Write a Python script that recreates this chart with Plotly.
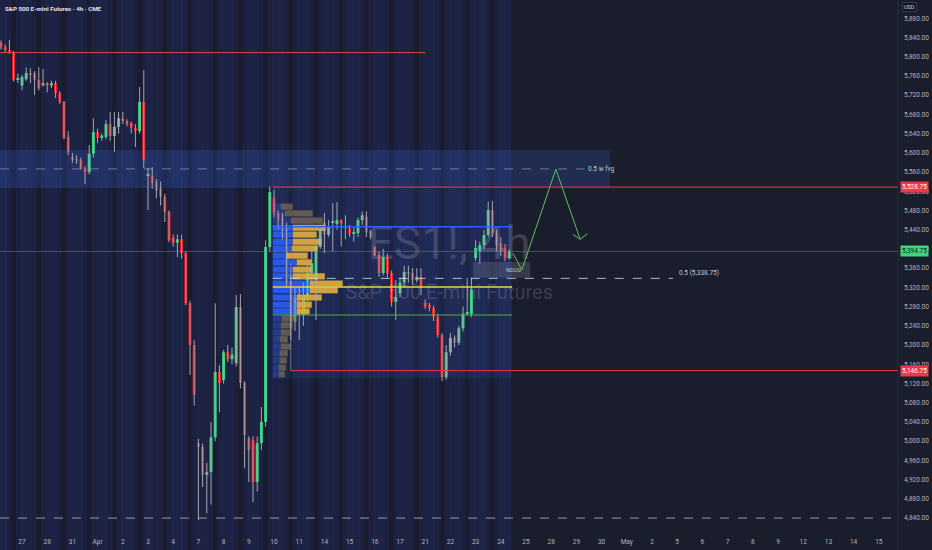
import plotly.graph_objects as go

# ---------------- data ----------------
first_bar = -5  # bar index of first visible 4h candle (index 0 = first bar of Mar 27)
opens = [5829, 5820, 5814, 5808, 5752, 5740, 5753, 5766, 5766, 5752, 5740, 5745, 5740, 5745, 5724,
         5706, 5633, 5591, 5585, 5585, 5568, 5560, 5598, 5643, 5631, 5633, 5660, 5635, 5654, 5672,
         5666, 5662, 5652, 5645, 5706, 5552, 5552, 5539, 5526, 5508, 5477, 5423, 5413, 5420, 5391,
         5287, 5200, 4996, 4988, 4930, 4936, 5008, 5144, 5127, 5185, 5171, 5162, 5279, 5121, 5006,
         5002, 4915, 4996, 5040, 5404, 5506, 5475, 5470, 5450, 5330, 5260, 5300, 5265, 5300, 5350,
         5335, 5404, 5455, 5430, 5455, 5452, 5460, 5445, 5443, 5432, 5433, 5460, 5467, 5437, 5404,
         5387, 5350, 5383, 5350, 5290, 5308, 5330, 5350, 5350, 5335, 5342, 5288, 5283, 5277, 5258,
         5221, 5133, 5185, 5215, 5205, 5235, 5265, 5264, 5381, 5395, 5408, 5429, 5481, 5433, 5412,
         5402, 5381]
highs = [5834, 5826, 5835, 5812, 5765, 5762, 5778, 5776, 5770, 5778, 5774, 5747, 5750, 5750, 5728,
         5708, 5645, 5600, 5595, 5590, 5572, 5616, 5672, 5650, 5640, 5668, 5685, 5685, 5685, 5685,
         5670, 5665, 5660, 5737, 5772, 5568, 5570, 5545, 5540, 5515, 5480, 5430, 5430, 5430, 5395,
         5292, 5210, 5005, 4995, 4955, 5040, 5287, 5158, 5190, 5200, 5195, 5304, 5306, 5125, 5010,
         5010, 5010, 5071, 5418, 5530, 5523, 5480, 5475, 5455, 5345, 5320, 5320, 5330, 5370, 5400,
         5420, 5450, 5475, 5460, 5495, 5497, 5462, 5470, 5450, 5445, 5465, 5478, 5478, 5440, 5405,
         5395, 5400, 5390, 5355, 5335, 5340, 5365, 5365, 5360, 5360, 5360, 5295, 5288, 5282, 5265,
         5225, 5200, 5225, 5220, 5240, 5280, 5340, 5340, 5418, 5415, 5440, 5498, 5500, 5440, 5425,
         5410, 5400]
lows = [5815, 5808, 5806, 5748, 5745, 5730, 5750, 5745, 5720, 5730, 5738, 5726, 5735, 5714, 5702,
        5628, 5595, 5579, 5577, 5565, 5535, 5555, 5590, 5620, 5625, 5628, 5625, 5602, 5640, 5660,
        5655, 5640, 5612, 5640, 5568, 5481, 5525, 5505, 5490, 5456, 5414, 5405, 5383, 5380, 5283,
        5138, 5074, 4836, 4905, 4850, 4868, 5000, 5060, 5120, 5165, 5160, 5155, 5110, 4944, 4915,
        4873, 4895, 4982, 5030, 5395, 5465, 5440, 5420, 5320, 5210, 5230, 5210, 5240, 5290, 5320,
        5252, 5400, 5391, 5425, 5395, 5440, 5405, 5420, 5425, 5415, 5425, 5450, 5425, 5420, 5385,
        5342, 5345, 5340, 5280, 5252, 5300, 5320, 5330, 5325, 5330, 5304, 5275, 5270, 5250, 5215,
        5125, 5128, 5178, 5195, 5200, 5228, 5262, 5258, 5375, 5370, 5400, 5425, 5425, 5395, 5385,
        5375, 5378]
closes = [5820, 5814, 5808, 5752, 5755, 5758, 5766, 5764, 5752, 5734, 5745, 5740, 5745, 5724, 5706,
          5631, 5602, 5585, 5584, 5568, 5560, 5598, 5643, 5631, 5636, 5660, 5635, 5654, 5672, 5666,
          5662, 5652, 5645, 5706, 5585, 5556, 5537, 5522, 5508, 5477, 5418, 5413, 5420, 5391, 5287,
          5200, 5096, 4988, 4930, 4936, 5008, 5144, 5121, 5185, 5171, 5180, 5279, 5121, 5013, 4982,
          4915, 4996, 5040, 5404, 5518, 5475, 5460, 5450, 5330, 5260, 5300, 5265, 5300, 5350, 5370,
          5404, 5440, 5430, 5446, 5458, 5460, 5453, 5444, 5432, 5433, 5460, 5470, 5435, 5425, 5387,
          5350, 5383, 5350, 5290, 5300, 5330, 5352, 5348, 5335, 5342, 5320, 5280, 5277, 5258, 5221,
          5133, 5185, 5215, 5205, 5235, 5265, 5268, 5315, 5402, 5408, 5429, 5481, 5433, 5408, 5394,
          5381, 5394.75]

day_labels = ["27", "28", "31", "Apr", "2", "3", "4", "7", "8", "9", "10", "11", "14", "15", "16",
              "17", "21", "22", "23", "24", "25", "28", "29", "30", "May", "2", "5", "6", "7", "8",
              "9", "12", "13", "14", "15"]
bars_per_day = 6

# horizontal levels
level_high = 5528.75
level_low = 5146.75
level_top_old = 5808.5
level_bottom = 4840.0
last_price = 5394.75
fvg_top, fvg_bottom = 5606, 5527
vah, poc, val = 5446, 5321, 5262.5
fib_half = 5338.75
ndog_top, ndog_bottom = 5373, 5340

# volume profile rows (price centres, top -> bottom) and volumes (up/down parts)
profile_prices = [5488, 5474, 5459, 5444, 5430, 5415, 5401, 5386, 5372, 5357, 5343, 5328, 5314,
                  5299, 5284, 5270, 5255, 5241, 5226, 5212, 5197, 5183, 5168, 5153, 5139]
profile_up = [8, 12, 18, 20, 20, 20, 19, 14, 24, 20, 20, 37, 37, 24, 24, 24, 9, 8, 8, 7, 8, 7, 7, 6, 6]
profile_down = [12, 28, 32, 33, 24, 29, 26, 21, 15, 19, 32, 33, 28, 25, 15, 13, 15, 12, 10, 8, 10, 8, 7, 7, 6]

# projected path (bar index, price)
path_x = [116.9, 119.0, 127.1, 132.9]
path_y = [5391, 5356, 5566, 5420]

# ---------------- figure ----------------
W, H = 932, 550
ml, mr, mt, mb = 0, 34, 0, 18
bar_px = 25.2 / bars_per_day
x0_px = 22.0
x_range = [(0 - x0_px) / bar_px, (W - mr - x0_px) / bar_px]
y_range = [4811, 5918]

n = len(opens)
idx = [first_bar + k for k in range(n)]
GREEN = "#35d07f"
RED = "#f0141e"
WICK = "#a3a7b1"

fig = go.Figure()

# background session stripes
for i in range(first_bar - 1, idx[-1] + 1):
    k = i % bars_per_day
    if k == 4:
        col = "#191c2f"
    elif k in (3, 5):
        col = "#1c2140"
    else:
        col = "#1e2446"
    fig.add_shape(type="rect", xref="x", yref="paper", x0=i - 0.5, x1=i + 0.5, y0=-0.04, y1=1,
                  fillcolor=col, line_width=0, layer="below")

# FVG box
fig.add_shape(type="rect", xref="x", yref="y", x0=x_range[0], x1=140, y0=fvg_bottom, y1=fvg_top,
              fillcolor="rgba(60,100,220,0.22)", line_width=0, layer="below")
# profile box
fig.add_shape(type="rect", xref="x", yref="y", x0=59.7, x1=116.7, y0=5131, y1=level_high,
              fillcolor="rgba(60,100,220,0.12)", line_width=0, layer="below")
# NDOG box
fig.add_shape(type="rect", xref="x", yref="y", x0=107.4, x1=121, y0=ndog_bottom, y1=ndog_top,
              fillcolor="rgba(140,143,154,0.25)", line_width=0, layer="below")

# watermark
fig.add_trace(go.Scatter(x=[101.7], y=[5404], mode="text", text=["ES1!, 4h"],
                         textfont=dict(size=46, color="rgba(150,155,170,0.28)", family="Roboto"),
                         hoverinfo="skip", showlegend=False))
fig.add_trace(go.Scatter(x=[101.7], y=[5306], mode="text", text=["S&P 500 E-mini Futures"],
                         textfont=dict(size=20, color="rgba(150,155,170,0.28)", family="Roboto"),
                         hoverinfo="skip", showlegend=False))

# wicks
wx, wy = [], []
for i, h, l in zip(idx, highs, lows):
    wx += [i, i, None]
    wy += [l, h, None]
fig.add_trace(go.Scatter(x=wx, y=wy, mode="lines", line=dict(color=WICK, width=1),
                         hoverinfo="skip", showlegend=False))
# bodies
bases = [min(o, c) for o, c in zip(opens, closes)]
heights = [max(abs(c - o), 2.0) for o, c in zip(opens, closes)]
colors = [GREEN if c >= o else RED for o, c in zip(opens, closes)]
fig.add_trace(go.Bar(x=idx, y=heights, base=bases, width=0.72, marker=dict(color=colors, line_width=0),
                     hoverinfo="skip", showlegend=False))

# volume profile
px_per_unit = 1.0 / bar_px
prof_start = 59.7
row_h = 14.56
in_va = [val <= p <= vah + 8 for p in profile_prices]
up_col = ["rgba(41,98,255,0.85)" if v else "rgba(41,98,255,0.30)" for v in in_va]
dn_col = ["rgba(240,185,60,0.85)" if v else "rgba(170,140,80,0.50)" for v in in_va]
fig.add_trace(go.Bar(orientation="h", y=profile_prices, x=[u * px_per_unit for u in profile_up],
                     base=prof_start, width=row_h * 0.88, marker=dict(color=up_col, line_width=0),
                     hoverinfo="skip", showlegend=False))
fig.add_trace(go.Bar(orientation="h", y=profile_prices, x=[d * px_per_unit for d in profile_down],
                     base=[prof_start + u * px_per_unit for u in profile_up], width=row_h * 0.88,
                     marker=dict(color=dn_col, line_width=0), hoverinfo="skip", showlegend=False))

# projected path
fig.add_trace(go.Scatter(x=path_x, y=path_y, mode="lines", line=dict(color="#5cc15f", width=1),
                         hoverinfo="skip", showlegend=False))
fig.add_trace(go.Scatter(x=[131.2, path_x[-1], 134.6], y=[5430, path_y[-1], 5432], mode="lines",
                         line=dict(color="#5cc15f", width=1), hoverinfo="skip", showlegend=False))


def hline(y, x0, x1, color, width=1, dash="solid", xref="x"):
    fig.add_shape(type="line", xref=xref, yref="y", x0=x0, x1=x1, y0=y, y1=y,
                  line=dict(color=color, width=width, dash=dash), layer="above")


hline(level_top_old, x_range[0], 96, "#e0454f")
hline(last_price, 0, 1, "rgba(130,134,146,0.45)", xref="paper")
hline(level_bottom, 0, 1, "rgba(200,203,210,0.7)", dash="dash", xref="paper")
hline((fvg_top + fvg_bottom) / 2, x_range[0], 134, "rgba(180,184,196,0.55)", dash="dash")
hline(level_high, 59.7, x_range[1], "#f23645")
hline(level_low, 64.0, x_range[1], "#f23645")
hline(vah, 59.7, 116.7, "#2962ff", width=1.5)
hline(poc, 59.7, 116.7, "#e8d44a", width=1.5)
hline(val, 59.7, 116.7, "#4caf50", width=1.2)
hline(fib_half, 59.7, 155, "rgba(220,222,228,0.8)", dash="dash")
fig.add_shape(type="line", xref="x", yref="y", x0=64.0, x1=64.0, y0=level_low, y1=5370,
              line=dict(color="rgba(170,173,182,0.6)", width=1), layer="above")
# separator between plot and price axis
fig.add_shape(type="line", xref="paper", yref="paper", x0=1, x1=1, y0=-0.04, y1=1,
              line=dict(color="#2a2e39", width=1))

small = dict(family="Roboto", size=6.5, color="#c8cad2")
fig.add_annotation(x=134.3, y=(fvg_top + fvg_bottom) / 2, text="0.5 w fvg", showarrow=False,
                   xanchor="left", font=small)
fig.add_annotation(x=156, y=fib_half + 12, text="0.5 (5,338.75)", showarrow=False,
                   xanchor="left", font=small)
fig.add_annotation(x=117, y=5356, text="NDOG", showarrow=False, font=dict(family="Roboto", size=5.5, color="#c8cad2"))

# title
fig.add_annotation(xref="paper", yref="paper", x=0, y=1, xshift=3, yshift=-3, xanchor="left",
                   yanchor="top", text="<b>S&P 500 E-mini Futures · 4h · CME</b>", showarrow=False,
                   font=dict(family="Roboto", size=6.2, color="#e0e3eb"))
# USD box
fig.add_annotation(xref="paper", yref="paper", x=1, y=1, xshift=4, yshift=-2, xanchor="left",
                   yanchor="top", text="USD", showarrow=False, bgcolor="#131722",
                   bordercolor="#363a45", borderwidth=1, borderpad=1,
                   font=dict(family="Roboto", size=5.5, color="#d1d4dc"))


def price_box(y, bg, fg):
    fig.add_annotation(xref="paper", yref="y", x=1, y=y, xshift=2, xanchor="left",
                       text=f"{y:,.2f}", showarrow=False, bgcolor=bg, borderpad=1,
                       font=dict(family="Roboto", size=6.5, color=fg))


price_box(level_high, "#f23645", "#ffffff")
price_box(level_low, "#f23645", "#ffffff")
price_box(last_price, "#3fd47c", "#131722")

tickvals_x = [d * bars_per_day for d in range(len(day_labels))]
yticks = list(range(4840, 5881, 40))

fig.update_layout(
    width=W, height=H, margin=dict(l=ml, r=mr, t=mt, b=mb),
    paper_bgcolor="#1a1d2b", plot_bgcolor="#1a1d2b",
    barmode="overlay", showlegend=False,
    xaxis=dict(range=x_range, tickvals=tickvals_x, ticktext=day_labels, showgrid=False,
               zeroline=False, showline=False, ticks="", automargin=False,
               tickfont=dict(family="Roboto", size=6.5, color="#b2b5be"), ticklabelstandoff=4),
    yaxis=dict(range=y_range, side="right", tickvals=yticks,
               ticktext=[f"{v:,.2f}" for v in yticks], showgrid=False, zeroline=False,
               showline=False, ticks="", automargin=False, ticklabelstandoff=5,
               tickfont=dict(family="Roboto", size=6.5, color="#b2b5be")),
)

fig.write_html("out.html", config={"displayModeBar": False},
               post_script="document.body.style.margin='0';document.body.style.background='#1a1d2b';")
